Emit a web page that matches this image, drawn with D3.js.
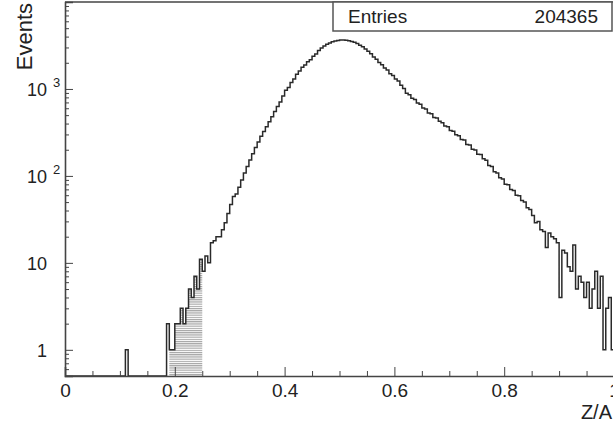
<!DOCTYPE html>
<html>
<head>
<meta charset="utf-8">
<script src="https://cdn.jsdelivr.net/npm/d3@7"></script>
<style>
  html, body { margin: 0; padding: 0; background: #fff; }
  svg { display: block; font-family: "Liberation Sans", Arial, Helvetica, sans-serif; }
</style>
</head>
<body>
<svg id="chart" width="613" height="424"></svg>
<script>
// ---------------- data ----------------
const binWidth = 0.005;
const lowEdge = 0.185;                 // first filled bin of the main block
const counts = [
  2, 1, 1, 2, 2, 3, 2, 3, 5, 4, 7, 5, 11, 8, 12, 10,                 // 0.185 - 0.265
  17, 18, 20, 20, 24, 29, 37, 47, 58, 62, 74, 90, 108, 128, 152, 180, // 0.265 - 0.345
  212, 245, 285, 325, 368, 420, 480, 550, 630, 710,                   // 0.345 - 0.395
  830, 965, 1040, 1190, 1300, 1480, 1610, 1780, 1880, 2060, 2170, 2380, 2520, 2770,
  2965, 3119, 3258, 3381, 3483, 3559, 3614, 3648, 3656, 3638, 3589, 3524, 3436,
  3327, 3192, 3048, 2884, 2716,
  2540, 2330, 2200, 2010, 1900, 1740, 1650, 1500, 1425, 1300, 1235, 1100, 1010,
  890, 860, 780, 755, 690, 665, 605, 590, 530, 520, 470, 462, 425, 410, 375, 368,
  332, 326, 298, 290, 262, 258, 230, 226, 203, 199, 178, 176, 158, 151, 132, 128,
  112, 108, 95, 92, 80, 79, 70, 68, 60, 59, 52, 50, 43, 41, 35,
  29, 30, 24, 23, 15, 22, 20, 19, 17, 4, 14, 13, 9, 8, 16, 5, 7, 6, 4, 6, 3, 5,
  8, 3, 7, 1, 3, 4, 1
];
const isolatedX = [0.110];             // lone entries below the main block
const isolatedCounts = [1];
const hatchRange = [0.19, 0.25];
const entries = "204365";
const xTickValues = [0, 0.2, 0.4, 0.6, 0.8, 1];
const xTickLabels = ["0", "0.2", "0.4", "0.6", "0.8", "1"];
const yTickValues = [1, 10, 100, 1000];
const yTickBase = ["1", "10", "10", "10"];
const yTickExp = ["", "", "2", "3"];

// ---------------- layout ----------------
const svg = d3.select("#chart");
const x = d3.scaleLinear().domain([0, 1]).range([65, 614]);
const y = d3.scaleLog().domain([0.5, 10000]).range([376, 2]).clamp(true);
const ink = "#222";

// full histogram of 200 bins
const nBins = Math.round(1 / binWidth);
const hist = new Array(nBins).fill(0);
const first = Math.round(lowEdge / binWidth);
counts.forEach((c, i) => { hist[first + i] = c; });
isolatedX.forEach((v, i) => { hist[Math.round(v / binWidth)] = isolatedCounts[i]; });
const bins = hist.map((c, i) => ({ lo: i * binWidth, hi: (i + 1) * binWidth, c }));
const yv = c => c > 0 ? y(c) : y.range()[0];

// hatch pattern
const defs = svg.append("defs");
const pat = defs.append("pattern").attr("id", "hatch")
  .attr("patternUnits", "userSpaceOnUse").attr("width", 6).attr("height", 2.2);
pat.append("line").attr("x1", 0).attr("x2", 6).attr("y1", 0.6).attr("y2", 0.6)
  .attr("stroke", "#8a8a8a").attr("stroke-width", 0.9);

// hatched area
const hb = bins.filter(b => b.lo >= hatchRange[0] - 1e-9 && b.hi <= hatchRange[1] + 1e-9);
const areaPts = [];
hb.forEach(b => { areaPts.push([x(b.lo), yv(b.c)]); areaPts.push([x(b.hi), yv(b.c)]); });
svg.append("path")
  .attr("d", d3.area().x(d => d[0]).y0(y.range()[0]).y1(d => d[1])(areaPts))
  .attr("fill", "url(#hatch)");

// histogram step line
const pts = [];
bins.forEach(b => { pts.push([x(b.lo), yv(b.c)]); pts.push([x(b.hi), yv(b.c)]); });
svg.append("path")
  .attr("d", d3.line()(pts))
  .attr("fill", "none").attr("stroke", "#2a2a2a").attr("stroke-width", 1.5)
  .attr("stroke-linejoin", "miter");

// ---------------- axes ----------------
const frameColor = "#444";
// x axis (ticks pointing inward/up)
const xAxis = d3.axisBottom(x).tickValues(xTickValues)
  .tickFormat((d, i) => xTickLabels[i]).tickSize(-9).tickPadding(8);
const gx = svg.append("g").attr("transform", `translate(0,${y.range()[0]})`).call(xAxis);
const xMinor = d3.range(0, 1.0001, 0.05).filter(v => xTickValues.every(t => Math.abs(t - v) > 1e-6));
svg.append("g").attr("transform", `translate(0,${y.range()[0]})`)
  .call(d3.axisBottom(x).tickValues(xMinor).tickFormat("").tickSize(-5))
  .call(g => g.select(".domain").remove());
gx.select(".domain").attr("stroke", frameColor).attr("stroke-width", 1.6);
gx.selectAll(".tick text").attr("fill", ink).style("font-size", "19px");
svg.selectAll("g .tick line").attr("stroke", frameColor);

// y axis (ticks pointing inward/right)
const yAxis = d3.axisLeft(y).tickValues(yTickValues).tickFormat("").tickSize(-8);
const gy = svg.append("g").attr("transform", `translate(${x.range()[0]},0)`).call(yAxis);
gy.select(".domain").attr("stroke", frameColor).attr("stroke-width", 1.6);
gy.selectAll(".tick line").attr("stroke", frameColor);
const yMinor = [];
[0.1, 1, 10, 100, 1000].forEach(dec => { for (let k = 2; k <= 9; k++) yMinor.push(dec * k); });
svg.append("g").attr("transform", `translate(${x.range()[0]},0)`)
  .call(d3.axisLeft(y).tickValues(yMinor.filter(v => v >= 0.5 && v <= 10000)).tickFormat("").tickSize(-4))
  .call(g => g.select(".domain").remove())
  .call(g => g.selectAll(".tick line").attr("stroke", frameColor));

// y tick labels with superscripts
const yl = svg.append("g").attr("fill", ink);
yTickValues.forEach((v, i) => {
  yl.append("text").attr("x", 47).attr("y", y(v) + 7)
    .attr("text-anchor", "end").style("font-size", "18px").text(yTickBase[i]);
  if (yTickExp[i]) {
    yl.append("text").attr("x", 53).attr("y", y(v) - 2)
      .style("font-size", "13px").text(yTickExp[i]);
  }
});

// frame top
svg.append("line").attr("x1", x.range()[0]).attr("x2", x.range()[1])
  .attr("y1", y.range()[1]).attr("y2", y.range()[1])
  .attr("stroke", frameColor).attr("stroke-width", 1.6);

// axis titles
svg.append("text").attr("transform", "translate(32,3) rotate(-90)")
  .attr("text-anchor", "end").attr("fill", ink).style("font-size", "22px").text("Events");
svg.append("text").attr("x", 612).attr("y", 419)
  .attr("text-anchor", "end").attr("fill", ink).style("font-size", "20px").text("Z/A");

// stats box
svg.append("rect").attr("x", 333).attr("y", 2).attr("width", 279).attr("height", 29)
  .attr("fill", "#fff").attr("stroke", "#555").attr("stroke-width", 1.5);
svg.append("text").attr("x", 348).attr("y", 23).attr("fill", ink)
  .style("font-size", "19px").text("Entries");
svg.append("text").attr("x", 598).attr("y", 23).attr("text-anchor", "end").attr("fill", ink)
  .style("font-size", "19px").text(entries);
</script>
</body>
</html>
